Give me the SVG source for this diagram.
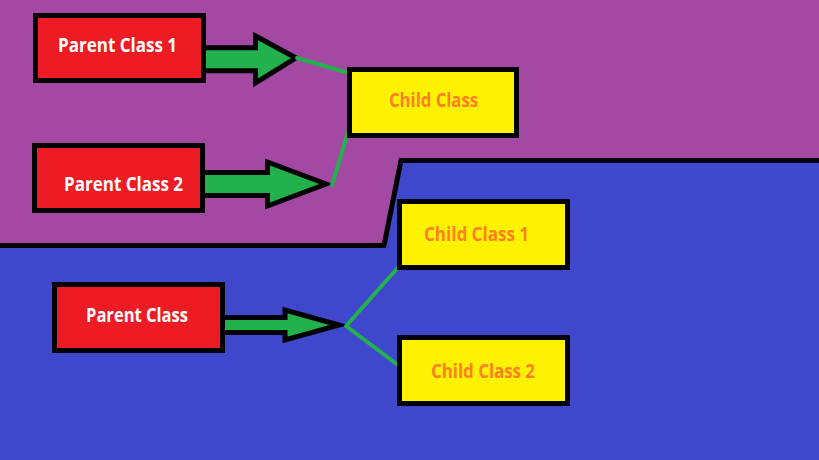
<svg xmlns="http://www.w3.org/2000/svg" width="819" height="460" viewBox="0 0 819 460">
<style>
.box{stroke:#000;stroke-width:5}
.parent{fill:#ED1C24}
.child{fill:#FFF200}
.lbl{font-family:"Open Sans","Liberation Sans",sans-serif;font-weight:bold;font-size:19px;text-anchor:middle}
.pl{fill:#FFFFFF}
.cl{fill:#FF7F27}
.arrow{fill:#22B14C;stroke:#000;stroke-width:5;stroke-linejoin:miter;stroke-miterlimit:12}
.link{fill:none;stroke:#22B14C;stroke-width:4;stroke-linecap:round;stroke-linejoin:round}
</style>
<rect x="0" y="0" width="819" height="460" fill="#3F48CC"/>
<path d="M0,0 L819,0 L819,160.5 L401,160.5 L384,245.5 L0,245.5 Z" fill="#A349A4"/>
<path d="M0,245.5 L384,245.5 L401,160.5 L819,160.5" fill="none" stroke="#000" stroke-width="5"/>
<g id="connectors">
<polygon class="arrow" points="200,47.8 255.5,47.8 255.5,36 296,58 255.5,83 255.5,70.8 200,70.8"/>
<polygon class="arrow" points="200,172.5 267.5,172.5 267.5,162 326,184 267.5,206 267.5,195.5 200,195.5"/>
<polygon class="arrow" points="220,317.5 285,317.5 285,310 339,325 285,340 285,332.5 220,332.5"/>
<path class="link" d="M297,58 L352,74"/>
<path class="link" d="M349,129 L332,185"/>
<path class="link" d="M402,263 L346,326 L398,365"/>
</g>
<g id="parent1"><rect class="box parent" x="35.5" y="15.5" width="168" height="65"/><text class="lbl pl" x="117.5" y="52" textLength="119" lengthAdjust="spacingAndGlyphs">Parent Class 1</text></g>
<g id="parent2"><rect class="box parent" x="34.5" y="145.5" width="168" height="65"/><text class="lbl pl" x="123.5" y="190.5" textLength="119" lengthAdjust="spacingAndGlyphs">Parent Class 2</text></g>
<g id="child"><rect class="box child" x="349.5" y="69.5" width="167" height="66"/><text class="lbl cl" x="433.5" y="106.5" textLength="89" lengthAdjust="spacingAndGlyphs">Child Class</text></g>
<g id="child1"><rect class="box child" x="399.5" y="201.5" width="168" height="66"/><text class="lbl cl" x="476.5" y="240.5" textLength="105" lengthAdjust="spacingAndGlyphs">Child Class 1</text></g>
<g id="parent"><rect class="box parent" x="54.5" y="284.5" width="168" height="66"/><text class="lbl pl" x="137" y="321.5" textLength="102" lengthAdjust="spacingAndGlyphs">Parent Class</text></g>
<g id="child2"><rect class="box child" x="399.5" y="337.5" width="168" height="66"/><text class="lbl cl" x="483" y="377.5" textLength="104" lengthAdjust="spacingAndGlyphs">Child Class 2</text></g>
</svg>
